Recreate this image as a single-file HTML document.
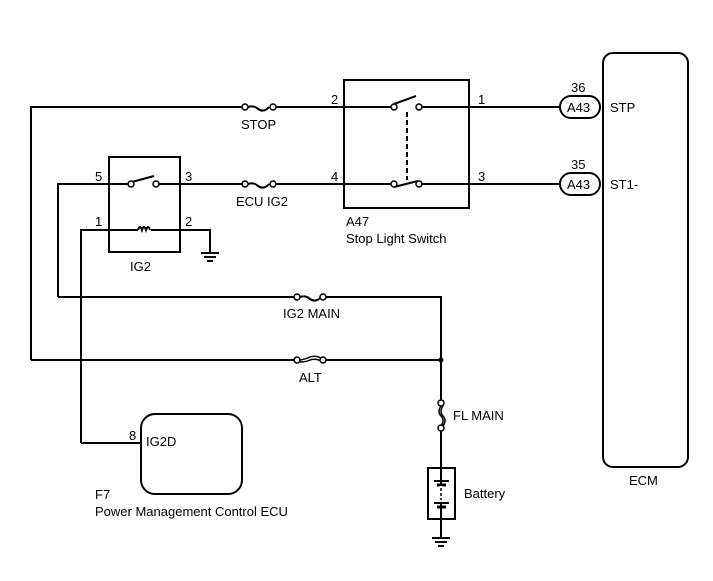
<!DOCTYPE html>
<html><head><style>body{margin:0;background:#fff}svg{display:block}text{font-family:"Liberation Sans",sans-serif;font-size:13px;fill:#000}</style></head><body>
<svg width="713" height="581" viewBox="0 0 713 581" xmlns="http://www.w3.org/2000/svg">
<g fill="none" stroke="#000" stroke-width="2">
<!-- top STOP line -->
<polyline points="31,360 31,107 245,107"/>
<line x1="273" y1="107" x2="394" y2="107"/>
<line x1="421" y1="107" x2="560" y2="107"/>
<!-- line 4 -->
<polyline points="58,297 58,184 128,184"/>
<line x1="157" y1="184" x2="245" y2="184"/>
<line x1="273" y1="184" x2="394" y2="184"/>
<line x1="421" y1="184" x2="560" y2="184"/>
<!-- coil -->
<polyline points="81,443 81,230 138,230"/>
<polyline points="151,230 210,230 210,253"/>
<!-- IG2 main / ALT -->
<line x1="58" y1="297" x2="297" y2="297"/>
<polyline points="323,297 441,297 441,403"/>
<line x1="31" y1="360" x2="297" y2="360"/>
<line x1="323" y1="360" x2="441" y2="360"/>
<polyline points="441,428 441,538"/>
<line x1="81" y1="443" x2="141" y2="443"/>
<!-- boxes -->
<rect x="344" y="80" width="125" height="128"/>
<rect x="109" y="157" width="71" height="95"/>
<rect x="603" y="53" width="85" height="414" rx="10"/>
<rect x="141" y="414" width="101" height="80" rx="14"/>
<rect x="428" y="468" width="27" height="51"/>
<!-- A43 connectors -->
<rect x="560" y="96" width="40" height="22" rx="11" fill="#fff"/>
<rect x="560" y="173" width="40" height="22" rx="11" fill="#fff"/>
<!-- switches -->
<line x1="133" y1="179" x2="153" y2="184" stroke-width="0"/>
<line x1="132" y1="182" x2="154" y2="176" transform="translate(0,0)"/>
<line x1="394" y1="104" x2="416" y2="96"/>
<line x1="394" y1="187" x2="418" y2="181"/>
<line x1="407" y1="112" x2="407" y2="180" stroke-dasharray="5,3"/>
<!-- fuses -->
<path d="M248,107 q6,-2 10,2 q6,4 11,-2"/>
<path d="M248,184 q6,-2 10,2 q6,4 11,-2"/>
<path d="M300,297 q6,-2 10,2 q6,4 11,-2"/>
<path d="M300,360 q6,-1 10,-3 q5,-2 11,1 M300,362 q6,0 10,-2 q5,-2 11,1" stroke-width="1.5"/>
<path d="M441,406 q-4,6 0,10 q4,4 0,10 M443,406 q-4,6 0,10 q4,4 0,10" stroke-width="1.5"/>
<!-- coil loops -->
<path d="M138,230 q2,-6 4,0 q2,-6 4,0 q2,-6 4,0" stroke-width="2"/>
<!-- ground symbols -->
<line x1="201" y1="253" x2="219" y2="253"/><line x1="204" y1="257" x2="216" y2="257"/><line x1="207" y1="261" x2="213" y2="261"/>
<line x1="432" y1="538" x2="450" y2="538"/><line x1="435" y1="542" x2="447" y2="542"/><line x1="438" y1="546" x2="444" y2="546"/>
</g>
<!-- battery cells -->
<g stroke="#000">
<line x1="434" y1="481" x2="449" y2="481" stroke-width="2"/><line x1="437" y1="485" x2="446" y2="485" stroke-width="3"/>
<line x1="434" y1="503" x2="449" y2="503" stroke-width="2"/><line x1="437" y1="507" x2="446" y2="507" stroke-width="3"/>
<line x1="441" y1="486" x2="441" y2="502" stroke="#fff" stroke-width="3"/>
<line x1="441" y1="488" x2="441" y2="500" stroke-width="1.5" stroke-dasharray="3,2"/>
</g>
<g fill="#fff" stroke="#000" stroke-width="1.5">
<circle cx="245" cy="107" r="3"/><circle cx="273" cy="107" r="3"/>
<circle cx="245" cy="184" r="3"/><circle cx="273" cy="184" r="3"/>
<circle cx="297" cy="297" r="3"/><circle cx="323" cy="297" r="3"/>
<circle cx="297" cy="360" r="3"/><circle cx="323" cy="360" r="3"/>
<circle cx="441" cy="403" r="3"/><circle cx="441" cy="428" r="3"/>
<circle cx="394" cy="107" r="3"/><circle cx="419" cy="107" r="3"/>
<circle cx="394" cy="184" r="3"/><circle cx="419" cy="184" r="3"/>
<circle cx="131" cy="184" r="3"/><circle cx="156" cy="184" r="3"/>
</g>
<circle cx="441" cy="360" r="2.5" fill="#000"/>
<text x="241" y="129">STOP</text>
<text x="236" y="206">ECU IG2</text>
<text x="283" y="318">IG2 MAIN</text>
<text x="299" y="382">ALT</text>
<text x="453" y="420">FL MAIN</text>
<text x="464" y="498">Battery</text>
<text x="130" y="271">IG2</text>
<text x="331" y="104">2</text><text x="331" y="181">4</text>
<text x="478" y="104">1</text><text x="478" y="181">3</text>
<text x="95" y="181">5</text><text x="185" y="181">3</text>
<text x="95" y="226">1</text><text x="185" y="226">2</text>
<text x="346" y="226">A47</text>
<text x="346" y="243">Stop Light Switch</text>
<text x="571" y="92">36</text><text x="571" y="169">35</text>
<text x="567" y="112">A43</text><text x="567" y="189">A43</text>
<text x="610" y="112">STP</text><text x="610" y="189">ST1-</text>
<text x="629" y="485">ECM</text>
<text x="129" y="440">8</text>
<text x="146" y="446">IG2D</text>
<text x="95" y="499">F7</text>
<text x="95" y="516">Power Management Control ECU</text>
</svg>
</body></html>
